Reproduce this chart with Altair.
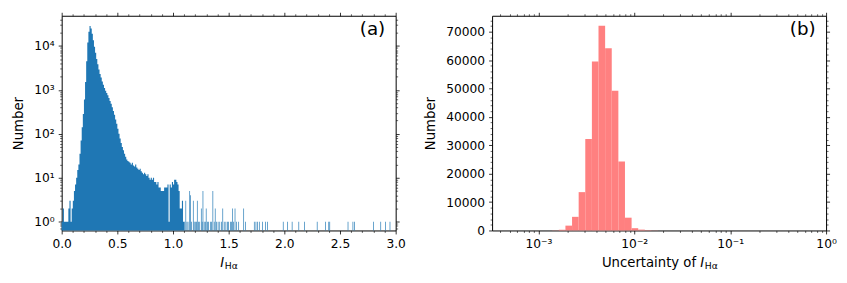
import altair as alt
import pandas as pd
import numpy as np

FONT = "DejaVu Sans"
BLUE = "#1f77b4"
PINK = "#ff8080"
W, H = 336, 216

# ---------------- panel (a): histogram of I_Halpha (log counts) ----------------
a_bin_start = 0.0
a_bin_width = 0.01
a_dense_counts = [
    1, 2, 1, 1, 1, 1, 2, 3, 1, 2,                      # 0.00-0.10
    3, 5, 7, 10, 15, 20, 35, 70, 140, 280,              # 0.10-0.20
    600, 1500, 4500, 12000, 21000, 28500, 25000, 19000, 13500, 9500,  # 0.20-0.30
    7000, 5000, 3800, 2900, 2300, 1900, 1550, 1300, 1100, 950,        # 0.30-0.40
    850, 750, 650, 560, 480, 400, 330, 270, 210, 170,   # 0.40-0.50
    130, 100, 78, 62, 50, 42, 35, 30, 26, 24,           # 0.50-0.60
    23, 22, 20, 22, 19, 18, 20, 17, 16, 15,             # 0.60-0.70
    16, 14, 13, 12, 13, 12, 11, 12, 10, 9,              # 0.70-0.80
    10, 9, 10, 8, 8, 7, 8, 6, 6, 5,                     # 0.80-0.90
    5, 5, 6, 6, 6, 7, 1, 7, 6, 8,                       # 0.90-1.00
    7, 9, 9, 8, 7, 5, 2, 2, 3, 1,                       # 1.00-1.10
]
a_tail_centers = [
    1.105, 1.115, 1.125, 1.135, 1.150, 1.158, 1.166, 1.182, 1.190, 1.200,
    1.210, 1.218, 1.230, 1.240, 1.254, 1.262, 1.269, 1.280, 1.290, 1.298,
    1.310, 1.320, 1.335, 1.345, 1.358, 1.370, 1.379, 1.390, 1.405, 1.420,
    1.435, 1.447, 1.460, 1.475, 1.490, 1.500, 1.515, 1.525, 1.536, 1.545,
    1.557, 1.570, 1.590, 1.635, 1.650, 1.730, 1.745, 1.760, 1.775, 1.804,
    1.830, 1.850, 1.990, 2.030, 2.070, 2.130, 2.180, 2.295, 2.369, 2.399,
    2.408, 2.572, 2.616, 2.631, 2.800, 2.866, 2.910, 2.949,
]
a_tail_counts = [
    1, 3, 1, 1, 5, 4, 1, 3, 1, 1,
    1, 3, 1, 1, 2, 1, 5, 1, 1, 2,
    1, 1, 1, 1, 5, 1, 2, 1, 1, 1,
    1, 2, 1, 1, 1, 1, 1, 1, 2, 1,
    2, 1, 1, 2, 1, 1, 1, 1, 1, 1,
    1, 1, 1, 1, 1, 1, 1, 1, 1, 1,
    1, 1, 1, 1, 1, 1, 1, 1,
]
a_tail_width = 0.006
a_x_domain = [0.0, 3.0]
a_y_domain = [0.63, 48500]
a_x_major = [0.0, 0.5, 1.0, 1.5, 2.0, 2.5, 3.0]
a_x_minor = [round(0.1 * i, 1) for i in range(31) if i % 5 != 0]
a_y_major = [1, 10, 100, 1000, 10000]
a_y_labels = ["10⁰", "10¹", "10²", "10³", "10⁴"]
a_y_minor = [0.7, 0.8, 0.9] + [m * 10 ** e for e in range(5) for m in range(2, 10) if m * 10 ** e < 48500]

# ---------------- panel (b): histogram of uncertainty (log x) ----------------
b_edges = [1.393e-3, 1.633e-3, 1.914e-3, 2.244e-3, 2.630e-3, 3.083e-3, 3.614e-3,
           4.236e-3, 4.966e-3, 5.821e-3, 6.823e-3, 7.998e-3, 9.376e-3, 1.099e-2,
           1.288e-2, 1.510e-2, 1.770e-2]
b_counts = [60, 250, 1700, 4800, 13500, 32200, 59500, 72100, 64200, 49200,
            24300, 4500, 800, 300, 120, 50]
b_x_domain = [3.29e-4, 1.0]
b_y_domain = [0, 75600]
b_x_major = [1e-3, 1e-2, 1e-1, 1.0]
b_x_labels = ["10⁻³", "10⁻²", "10⁻¹", "10⁰"]
b_x_minor = [m * 10.0 ** e for e in range(-4, 0) for m in range(2, 10) if m * 10.0 ** e >= 3.29e-4]
b_y_major = list(range(0, 70001, 10000))
b_y_minor = [v for v in range(0, 75001, 2000) if v % 10000 != 0]


def label_expr(values, labels):
    expr = repr(labels[-1])
    for i in range(len(values) - 2, -1, -1):
        thr = (values[i] * values[i + 1]) ** 0.5
        expr = f"datum.value < {thr} ? {labels[i]!r} : ({expr})"
    return expr


def axis(orient, values, major=True, labels=False, **kw):
    return alt.Axis(orient=orient, values=values, tickSize=3.5 if major else 2.0,
                    tickWidth=0.8 if major else 0.6, tickColor="black", domain=False,
                    grid=False, labels=labels, title=None, **kw)


def axis_layers(df, xf, yf, xs, ys, xmaj, xmin, ymaj, ymin):
    layers = []
    for xo, yo, xv, yv, major in [("top", "right", xmaj, ymaj, True),
                                  ("bottom", "left", xmin, ymin, False),
                                  ("top", "right", xmin, ymin, False)]:
        layers.append(
            alt.Chart(df).mark_point(opacity=0).encode(
                x=alt.X(xf, scale=xs, axis=axis(xo, xv, major)),
                y=alt.Y(yf, scale=ys, axis=axis(yo, yv, major)),
            )
        )
    return layers


def text_layer(txt, x, y, size, align="left", style="normal"):
    return alt.Chart(pd.DataFrame({"t": [txt]})).mark_text(
        font=FONT, fontSize=size, align=align, baseline="alphabetic",
        fontStyle=style, color="black").encode(
        x=alt.value(x), y=alt.value(y), text="t:N")


# ----- build panel (a) -----
dense_lo = a_bin_start + a_bin_width * np.arange(len(a_dense_counts))
# step outline: each bin's left edge with its count, plus the closing right edge
step_x = np.append(dense_lo, dense_lo[-1] + a_bin_width)
step_y = a_dense_counts + [a_dense_counts[-1]]
a_dense = pd.DataFrame({"lo": step_x, "count": step_y, "base": a_y_domain[0]})
tc = np.array(a_tail_centers)
a_tail = pd.DataFrame({"lo": tc - a_tail_width / 2, "hi": tc + a_tail_width / 2,
                       "count": a_tail_counts, "base": a_y_domain[0]})

a_xs = alt.Scale(domain=a_x_domain, nice=False, zero=False)
a_ys = alt.Scale(type="log", domain=a_y_domain, nice=False)

a_main = alt.Chart(a_dense).mark_area(color=BLUE, interpolate="step-after", opacity=1).encode(
    x=alt.X("lo:Q", scale=a_xs, axis=alt.Axis(orient="bottom", values=a_x_major, format=".1f",
                                               tickSize=3.5, tickWidth=0.8, tickColor="black",
                                               labelPadding=3.5, labelFlush=False, labelOverlap=False,
                                               domain=False, grid=False, title=None)),
    y=alt.Y("count:Q", scale=a_ys, axis=alt.Axis(orient="left", values=a_y_major,
                                                  labelExpr=label_expr(a_y_major, a_y_labels),
                                                  tickSize=3.5, tickWidth=0.8, tickColor="black",
                                                  labelPadding=4, titlePadding=8, domain=False,
                                                  labelFlush=False, labelOverlap=False,
                                                  grid=False, title="Number")),
    y2="base:Q",
)
a_tail_layer = alt.Chart(a_tail).mark_rect(color=BLUE).encode(
    x=alt.X("lo:Q", scale=a_xs, axis=None), x2="hi:Q",
    y=alt.Y("count:Q", scale=a_ys, axis=None), y2="base:Q")

left = alt.layer(
    a_main, a_tail_layer,
    *axis_layers(a_dense, "lo:Q", "count:Q", a_xs, a_ys, a_x_major, a_x_minor, a_y_major, a_y_minor),
    text_layer("(a)", 325.5, 19.5, 18.4, align="right"),
    text_layer("I", 159.5, 253, 13.3, style="italic"),
    text_layer("Hα", 164, 255, 9.3),
).resolve_axis(x="independent", y="independent").properties(width=W, height=H)

# ----- build panel (b) -----
b_df = pd.DataFrame({"lo": b_edges[:-1], "hi": b_edges[1:], "count": b_counts})
b_xs = alt.Scale(type="log", domain=b_x_domain, nice=False)
b_ys = alt.Scale(domain=b_y_domain, nice=False, zero=False)

b_main = alt.Chart(b_df).mark_rect(color=PINK).encode(
    x=alt.X("lo:Q", scale=b_xs, axis=alt.Axis(orient="bottom", values=b_x_major,
                                               labelExpr=label_expr(b_x_major, b_x_labels),
                                               tickSize=3.5, tickWidth=0.8, tickColor="black",
                                               labelPadding=3.5, labelFlush=False, labelOverlap=False,
                                               domain=False, grid=False, title=None)),
    x2="hi:Q",
    y=alt.Y("count:Q", scale=b_ys, axis=alt.Axis(orient="left", values=b_y_major, format="d",
                                                  tickSize=3.5, tickWidth=0.8, tickColor="black",
                                                  labelPadding=4, titlePadding=8, domain=False,
                                                  labelFlush=False, labelOverlap=False,
                                                  grid=False, title="Number")),
    y2=alt.Y2(datum=0),
)

right = alt.layer(
    b_main,
    *axis_layers(b_df, "lo:Q", "count:Q", b_xs, b_ys, b_x_major, b_x_minor, b_y_major, b_y_minor),
    text_layer("(b)", 325.5, 19.5, 18.4, align="right"),
    text_layer("Uncertainty of", 110.5, 253, 13.3),
    text_layer("I", 209.5, 253, 13.3, style="italic"),
    text_layer("Hα", 214, 255, 9.3),
).resolve_axis(x="independent", y="independent").properties(width=W, height=H)

chart = alt.hconcat(left, right, spacing=16).properties(
    padding={"left": 3, "top": 2, "right": 2, "bottom": 2}
).configure_view(stroke="black", strokeWidth=1).configure_axis(
    labelFont=FONT, labelFontSize=12.3, labelColor="black",
    titleFont=FONT, titleFontSize=13.3, titleFontWeight="normal", titleColor="black",
)

chart.save("out.html", embed_options={"renderer": "svg", "actions": False})
